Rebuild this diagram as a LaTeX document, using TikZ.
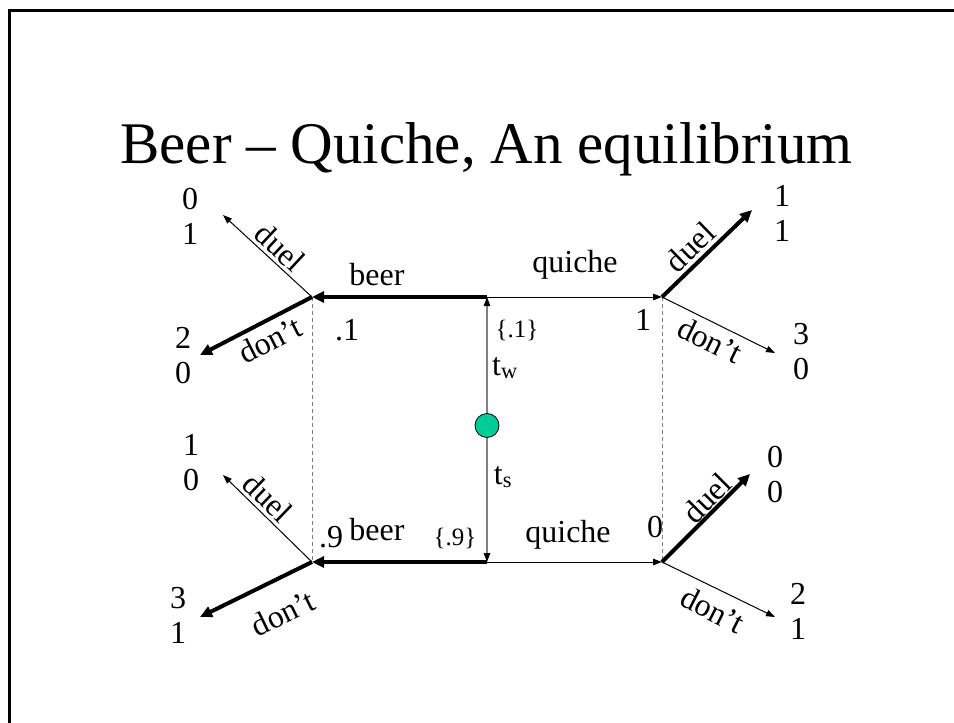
\documentclass[tikz,border=0pt]{standalone}
\usepackage{fontspec}
\setmainfont{Liberation Serif}
\usepackage{tikz}
\usetikzlibrary{arrows.meta, calc}
\definecolor{naturegreen}{RGB}{0, 204, 153}
\definecolor{lightgraytone}{RGB}{128, 128, 128}

\tikzset{
  move/.style={-{Triangle[length=9pt,width=6.5pt]}, line width=1pt},
  bestmove/.style={-{Triangle[length=12pt,width=11pt]}, line width=4pt},
  naturemove/.style={-{Triangle[length=9pt,width=6.5pt,color=black]}, lightgraytone, line width=1.3pt},
  infoset/.style={lightgraytone, line width=1pt, dash pattern=on 4pt off 3pt},
  lbl/.style={font=\fontsize{32}{34}\selectfont, inner sep=0pt},
  small lbl/.style={font=\fontsize{25}{28}\selectfont, inner sep=0pt},
  payoff/.style={font=\fontsize{32}{35}\selectfont, align=center, inner sep=0pt},
}

\begin{document}
\begin{tikzpicture}[x=1pt, y=-1pt]
        \useasboundingbox (0,0) rectangle (954,723);
        % slide frame
        \draw[line width=3pt] (9,723) -- (9,10.5) -- (954,10.5);

        % TITLE
        \node[font=\fontsize{59}{64}\selectfont, anchor=base] (title) at (486.5,163)
              {Beer -- Quiche, An equilibrium};

        % NATURE
        \node[circle, draw=black, fill=naturegreen, line width=0.8pt,
              minimum size=24pt, inner sep=0pt] (nat) at (487,425.5) {};
        \coordinate (tw) at (487,297);
        \coordinate (ts) at (487,562);
        \draw[naturemove] (nat) -- (tw);
        \draw[naturemove] (nat) -- (ts);
        \node[small lbl] (ptw) at (517,330) {\{.1\}};
        \node[small lbl] (pts) at (455,538) {\{.9\}};
        \node[lbl] (ltw) at (505,368) {t\textsubscript{w}};
        \node[lbl] (lts) at (503,477) {t\textsubscript{s}};

        % SENDER
        \coordinate (wB) at (312,297);
        \coordinate (wQ) at (662,297);
        \coordinate (sB) at (312,562);
        \coordinate (sQ) at (662,562);
        \draw[bestmove] (tw) -- (wB);
        \draw[move] (tw) -- (wQ);
        \draw[bestmove] (ts) -- (sB);
        \draw[move] (ts) -- (sQ);
        \node[lbl] (lwB) at (377,275) {beer};
        \node[lbl] (lwQ) at (575,265) {quiche};
        \node[lbl] (lsB) at (377,530) {beer};
        \node[lbl] (lsQ) at (568,535) {quiche};

        % BELIEFS
        \draw[infoset] (wB) -- (sB);
        \draw[infoset] (wQ) -- (sQ);
        \node[lbl] (bwB) at (347,330) {.1};
        \node[lbl] (bsB) at (331,537) {.9};
        \node[lbl] (bwQ) at (643,320) {1};
        \node[lbl] (bsQ) at (655,527) {0};

        % RECEIVER after beer
        \coordinate (wBd) at (223,215);
        \coordinate (wBn) at (200,355);
        \coordinate (sBd) at (223,475);
        \coordinate (sBn) at (200,617);
        \draw[move] (wB) -- (wBd);
        \draw[bestmove] (wB) -- (wBn);
        \draw[move] (sB) -- (sBd);
        \draw[bestmove] (sB) -- (sBn);
        \node[lbl, rotate=-43] (lwBd) at (280,247) {duel};
        \node[lbl, rotate=27] (lwBn) at (270,340) {don’t};
        \node[lbl, rotate=-44] (lsBd) at (268,498) {duel};
        \node[lbl, rotate=26] (lsBn) at (283,613) {don’t};
        \node[payoff] (pwBd) at (190,216) {0\\1};
        \node[payoff] (pwBn) at (183,356) {2\\0};
        \node[payoff] (psBd) at (191,463) {1\\0};
        \node[payoff] (psBn) at (178,615) {3\\1};

        % RECEIVER after quiche
        \coordinate (wQd) at (752,210);
        \coordinate (wQn) at (775,353);
        \coordinate (sQd) at (750,474);
        \coordinate (sQn) at (775,617);
        \draw[bestmove] (wQ) -- (wQd);
        \draw[move] (wQ) -- (wQn);
        \draw[bestmove] (sQ) -- (sQd);
        \draw[move] (sQ) -- (sQn);
        \node[lbl, rotate=44] (lwQd) at (690,247) {duel};
        \node[lbl, rotate=-26] (lwQn) at (710,340) {don’t};
        \node[lbl, rotate=45] (lsQd) at (707,498) {duel};
        \node[lbl, rotate=-27] (lsQn) at (713,610) {don’t};
        \node[payoff] (pwQd) at (782,213) {1\\1};
        \node[payoff] (pwQn) at (801,352) {3\\0};
        \node[payoff] (psQd) at (775,475) {0\\0};
        \node[payoff] (psQn) at (798,611) {2\\1};
      \end{tikzpicture}
\end{document}
